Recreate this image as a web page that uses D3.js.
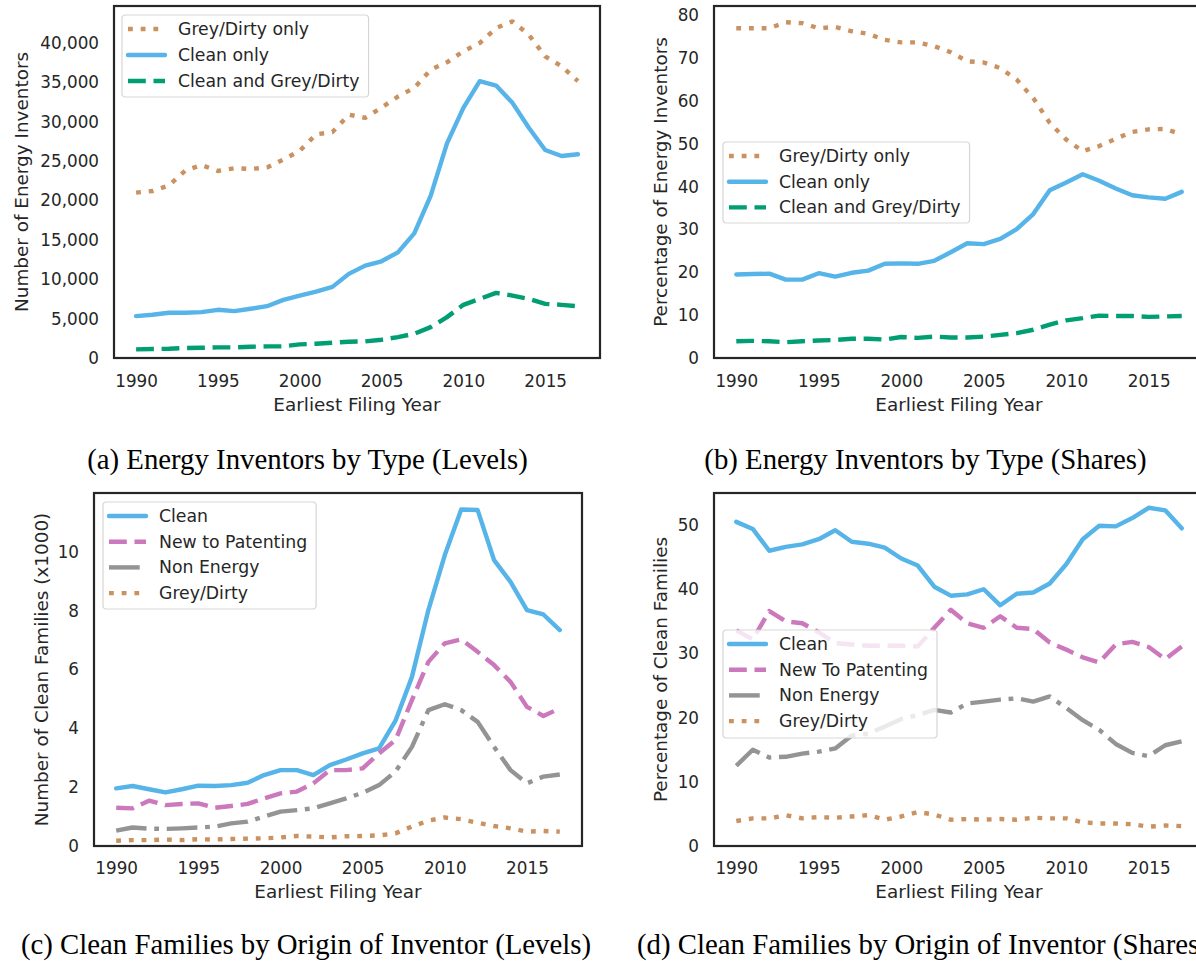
<!DOCTYPE html>
<html>
<head>
<meta charset="utf-8">
<script src="https://cdn.jsdelivr.net/npm/d3@7"></script>
<style>
  html, body { margin: 0; padding: 0; background: #fff; }
  svg { display: block; }
</style>
</head>
<body>
<svg id="chart" width="1196" height="961"></svg>
<script>
// ---------------- DATA ----------------
const years = [1990, 1991, 1992, 1993, 1994, 1995, 1996, 1997, 1998, 1999,
               2000, 2001, 2002, 2003, 2004, 2005, 2006, 2007, 2008, 2009,
               2010, 2011, 2012, 2013, 2014, 2015, 2016, 2017];

const xTickValues = [1990, 1995, 2000, 2005, 2010, 2015];

// (a) Energy inventors by type, levels
const aGreyDirtyOnly = [21000, 21200, 21900, 23800, 24500, 23750, 24100, 24000, 24200, 25200,
                        26300, 28400, 28700, 30900, 30500, 31800, 33200, 34300, 36600, 37550,
                        38950, 40000, 41900, 42750, 41050, 38300, 37050, 35150];
const aCleanOnly = [5320, 5490, 5740, 5740, 5820, 6120, 5950, 6250, 6580, 7380,
                    7930, 8440, 9030, 10680, 11730, 12280, 13420, 15820, 20590, 27260,
                    31770, 35150, 34600, 32400, 29240, 26410, 25650, 25870];
const aCleanAndGrey = [1100, 1140, 1180, 1270, 1300, 1350, 1350, 1430, 1480, 1480,
                       1730, 1810, 1940, 2070, 2110, 2320, 2660, 3080, 3920, 5190,
                       6750, 7510, 8270, 7930, 7510, 6880, 6750, 6580];
const aYTicks = [0, 5000, 10000, 15000, 20000, 25000, 30000, 35000, 40000];

// (b) Energy inventors by type, shares (%)
const bGreyDirtyOnly = [77.0, 77.0, 77.0, 78.4, 78.2, 77.0, 77.3, 76.3, 75.7, 74.3,
                        73.7, 73.7, 72.8, 71.4, 69.3, 69.0, 67.7, 65.0, 60.7, 54.9,
                        51.0, 48.3, 49.5, 51.2, 52.8, 53.4, 53.5, 52.2];
const bCleanOnly = [19.5, 19.6, 19.7, 18.3, 18.3, 19.8, 19.0, 19.9, 20.4, 22.0,
                    22.1, 22.0, 22.7, 24.7, 26.8, 26.6, 27.8, 30.1, 33.6, 39.2,
                    41.0, 42.9, 41.4, 39.6, 38.0, 37.5, 37.2, 38.8];
const bCleanAndGrey = [3.9, 4.0, 3.9, 3.7, 3.9, 4.1, 4.2, 4.5, 4.5, 4.3,
                       4.9, 4.7, 5.0, 4.8, 4.8, 5.0, 5.4, 5.8, 6.6, 7.8,
                       8.8, 9.3, 9.9, 9.8, 9.8, 9.6, 9.7, 9.8];
const bYTicks = [0, 10, 20, 30, 40, 50, 60, 70, 80];

// (c) Clean families by origin of inventor, levels (x1000)
const cClean = [1.96, 2.04, 1.93, 1.82, 1.93, 2.05, 2.04, 2.07, 2.15, 2.41,
                2.58, 2.58, 2.41, 2.75, 2.94, 3.15, 3.32, 4.26, 5.75, 8.02,
                9.89, 11.44, 11.42, 9.72, 8.98, 8.02, 7.87, 7.34];
const cNewToPatenting = [1.30, 1.28, 1.54, 1.39, 1.43, 1.45, 1.30, 1.36, 1.43, 1.62,
                         1.79, 1.85, 2.13, 2.58, 2.58, 2.64, 3.15, 3.60, 4.96, 6.26,
                         6.89, 7.02, 6.60, 6.15, 5.58, 4.73, 4.42, 4.68];
const cNonEnergy = [0.52, 0.63, 0.59, 0.58, 0.60, 0.63, 0.66, 0.77, 0.83, 1.00,
                    1.17, 1.22, 1.28, 1.45, 1.62, 1.81, 2.07, 2.53, 3.37, 4.62,
                    4.82, 4.62, 4.22, 3.37, 2.58, 2.13, 2.36, 2.43];
const cGreyDirty = [0.18, 0.20, 0.20, 0.22, 0.20, 0.23, 0.22, 0.24, 0.25, 0.26,
                    0.29, 0.34, 0.32, 0.29, 0.33, 0.34, 0.36, 0.43, 0.66, 0.86,
                    0.97, 0.91, 0.79, 0.68, 0.60, 0.49, 0.51, 0.49];
const cYTicks = [0, 2, 4, 6, 8, 10];

// (d) Clean families by origin of inventor, shares (%)
const dClean = [50.5, 49.4, 46.0, 46.6, 47.0, 47.8, 49.2, 47.4, 47.1, 46.5,
                44.8, 43.7, 40.4, 39.0, 39.2, 40.0, 37.5, 39.3, 39.5, 40.9,
                43.9, 47.8, 49.9, 49.8, 51.1, 52.7, 52.3, 49.5];
const dNewToPatenting = [33.6, 32.2, 36.6, 35.0, 34.7, 33.3, 31.6, 31.4, 31.2, 31.2,
                         31.2, 31.1, 34.0, 36.8, 34.7, 34.0, 35.8, 34.0, 33.8, 31.7,
                         30.6, 29.4, 28.6, 31.4, 31.8, 31.0, 29.1, 31.1];
const dNonEnergy = [12.5, 15.0, 13.8, 13.9, 14.4, 14.7, 15.2, 17.2, 17.5, 18.6,
                    19.8, 20.4, 21.2, 20.8, 22.2, 22.5, 22.8, 23.0, 22.5, 23.3,
                    21.5, 19.6, 18.1, 15.9, 14.5, 14.0, 15.7, 16.3];
const dGreyDirty = [3.9, 4.3, 4.3, 4.8, 4.3, 4.5, 4.4, 4.6, 4.8, 4.1,
                    4.6, 5.3, 4.9, 4.1, 4.2, 4.1, 4.2, 4.1, 4.4, 4.3,
                    4.3, 3.7, 3.5, 3.5, 3.4, 3.0, 3.2, 3.1];
const dYTicks = [0, 10, 20, 30, 40, 50];

const captions = [
  "(a) Energy Inventors by Type (Levels)",
  "(b) Energy Inventors by Type (Shares)",
  "(c) Clean Families by Origin of Inventor (Levels)",
  "(d) Clean Families by Origin of Inventor (Shares)"
];

// ---------------- STYLE ----------------
const COL = {
  blue: "#56B4E9", green: "#029E73", tan: "#CA9161", pink: "#CC78BC", grey: "#949494"
};
const DASH = {
  solid: null,
  dotted: "4.8,7.9",
  dashed: "17.8,7.7",
  dashdot: "30.7,7.7,4.8,7.7"
};
const TXT = "#262626";
const FONT = "DejaVu Sans";
const LW = 4.4;

const svg = d3.select("#chart");

function drawPanel(p) {
  const x = d3.scaleLinear().domain([1988.65, 2018.35]).range([p.x0, p.x1]);
  const y = d3.scaleLinear().domain(p.yDomain).range([p.y1, p.y0]);
  const g = svg.append("g");

  const clipId = "clip" + p.id;
  svg.append("clipPath").attr("id", clipId)
    .append("rect").attr("x", p.x0).attr("y", p.y0)
    .attr("width", p.x1 - p.x0).attr("height", p.y1 - p.y0);

  const yAxis = d3.axisLeft(y).tickValues(p.yTicks).tickSize(0).tickPadding(15)
    .tickFormat(p.yFormat);
  const ya = g.append("g").attr("transform", `translate(${p.x0},0)`).call(yAxis);
  const xAxis = d3.axisBottom(x).tickValues(xTickValues).tickSize(0).tickPadding(p.xPad)
    .tickFormat(d3.format("d"));
  const xa = g.append("g").attr("transform", `translate(0,${p.y1})`).call(xAxis);
  [ya, xa].forEach(a => {
    a.select(".domain").remove();
    a.selectAll("text").attr("fill", TXT).style("font-family", FONT).style("font-size", "16.8px");
  });

  const lg = g.append("g").attr("clip-path", `url(#${clipId})`);
  p.series.forEach(s => {
    const line = d3.line().x((d, i) => x(years[i])).y(d => y(d));
    lg.append("path").datum(s.values)
      .attr("d", line)
      .attr("fill", "none")
      .attr("stroke", s.color)
      .attr("stroke-width", LW)
      .attr("stroke-linejoin", "round")
      .attr("stroke-linecap", s.dash ? "butt" : "round")
      .attr("stroke-dasharray", s.dash);
  });

  g.append("rect").attr("x", p.x0).attr("y", p.y0)
    .attr("width", p.x1 - p.x0).attr("height", p.y1 - p.y0)
    .attr("fill", "none").attr("stroke", TXT).attr("stroke-width", 2.2);

  g.append("text").attr("x", (p.x0 + p.x1) / 2).attr("y", p.xLabelY)
    .attr("text-anchor", "middle").attr("fill", TXT)
    .style("font-family", FONT).style("font-size", "18.4px").text("Earliest Filing Year");
  g.append("text")
    .attr("transform", `translate(${p.yLabelX},${(p.y0 + p.y1) / 2}) rotate(-90)`)
    .attr("text-anchor", "middle").attr("fill", TXT)
    .style("font-family", FONT).style("font-size", "18.4px").text(p.yLabel);

  const L = p.legend;
  const leg = g.append("g");
  const box = leg.append("rect").attr("x", L.x).attr("y", L.y)
    .attr("height", L.h).attr("rx", 3.5).attr("ry", 3.5)
    .attr("fill", "rgba(255,255,255,0.8)").attr("stroke", "rgba(204,204,204,0.8)").attr("stroke-width", 1.2);
  let maxW = 0;
  p.series.forEach((s, i) => {
    const cy = L.y + L.first + i * L.step;
    leg.append("line").attr("x1", L.x + 6).attr("x2", L.x + 43)
      .attr("y1", cy).attr("y2", cy)
      .attr("stroke", s.color).attr("stroke-width", LW)
      .attr("stroke-linecap", s.dash ? "butt" : "round")
      .attr("stroke-dasharray", s.dash);
    const t = leg.append("text").attr("x", L.x + 56).attr("y", cy).attr("dy", "0.35em")
      .attr("fill", TXT).style("font-family", FONT).style("font-size", "17.3px").text(s.name);
    maxW = Math.max(maxW, t.node().getComputedTextLength());
  });
  box.attr("width", 56 + maxW + 9);
}

const fmtComma = d3.format(",");
const fmtInt = d3.format("d");

drawPanel({
  id: "a", x0: 114, x1: 600, y0: 6, y1: 358, yDomain: [0, 44700], yTicks: aYTicks, yFormat: fmtComma,
  xPad: 17, xLabelY: 411, yLabelX: 27.5, yLabel: "Number of Energy Inventors",
  legend: { x: 122, y: 15, h: 82, first: 14, step: 26 },
  series: [
    { name: "Grey/Dirty only", values: aGreyDirtyOnly, color: COL.tan, dash: DASH.dotted },
    { name: "Clean only", values: aCleanOnly, color: COL.blue, dash: DASH.solid },
    { name: "Clean and Grey/Dirty", values: aCleanAndGrey, color: COL.green, dash: DASH.dashed }
  ]
});

drawPanel({
  id: "b", x0: 714, x1: 1204, y0: 6, y1: 358, yDomain: [0, 82.2], yTicks: bYTicks, yFormat: fmtInt,
  xPad: 17, xLabelY: 411, yLabelX: 667, yLabel: "Percentage of Energy Inventors",
  legend: { x: 723, y: 142, h: 81, first: 14, step: 25.7 },
  series: [
    { name: "Grey/Dirty only", values: bGreyDirtyOnly, color: COL.tan, dash: DASH.dotted },
    { name: "Clean only", values: bCleanOnly, color: COL.blue, dash: DASH.solid },
    { name: "Clean and Grey/Dirty", values: bCleanAndGrey, color: COL.green, dash: DASH.dashed }
  ]
});

drawPanel({
  id: "c", x0: 94, x1: 582, y0: 493, y1: 846, yDomain: [0, 12.0], yTicks: cYTicks, yFormat: fmtInt,
  xPad: 16.5, xLabelY: 898, yLabelX: 47.5, yLabel: "Number of Clean Families (x1000)",
  legend: { x: 103, y: 502, h: 107, first: 14, step: 25.7 },
  series: [
    { name: "Clean", values: cClean, color: COL.blue, dash: DASH.solid },
    { name: "New to Patenting", values: cNewToPatenting, color: COL.pink, dash: DASH.dashed },
    { name: "Non Energy", values: cNonEnergy, color: COL.grey, dash: DASH.dashdot },
    { name: "Grey/Dirty", values: cGreyDirty, color: COL.tan, dash: DASH.dotted }
  ]
});

drawPanel({
  id: "d", x0: 714, x1: 1204, y0: 493, y1: 846, yDomain: [0, 55.0], yTicks: dYTicks, yFormat: fmtInt,
  xPad: 16.5, xLabelY: 898, yLabelX: 667, yLabel: "Percentage of Clean Families",
  legend: { x: 723, y: 630, h: 108, first: 14, step: 25.7 },
  series: [
    { name: "Clean", values: dClean, color: COL.blue, dash: DASH.solid },
    { name: "New To Patenting", values: dNewToPatenting, color: COL.pink, dash: DASH.dashed },
    { name: "Non Energy", values: dNonEnergy, color: COL.grey, dash: DASH.dashdot },
    { name: "Grey/Dirty", values: dGreyDirty, color: COL.tan, dash: DASH.dotted }
  ]
});

// captions
const capPos = [[307.5, 469], [925.5, 469], [306, 954], [637, 954]];
captions.forEach((c, i) => {
  svg.append("text").attr("x", capPos[i][0]).attr("y", capPos[i][1])
    .attr("text-anchor", i === 3 ? "start" : "middle")
    .attr("fill", "#000")
    .style("font-family", "Liberation Serif").style("font-size", "28.8px").text(c);
});
</script>
</body>
</html>
